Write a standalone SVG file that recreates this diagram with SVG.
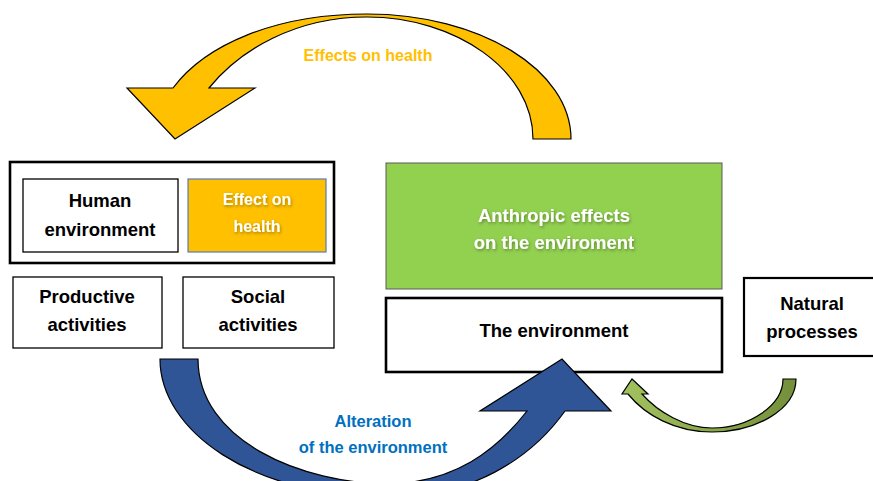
<svg xmlns="http://www.w3.org/2000/svg" width="873" height="481" viewBox="0 0 873 481">
  <style>
    text { font-family: "Liberation Sans", Arial, sans-serif; font-weight: bold; text-anchor: middle; }
    .box { fill: #ffffff; stroke: #000000; stroke-width: 1.3; }
    .heavy { fill: #ffffff; stroke: #000000; stroke-width: 2.6; }
    .dark { fill: #000000; font-size: 18.5px; }
    .light { fill: #ffffff; filter: url(#glow); }
    .arrow { stroke: #000000; stroke-width: 1.2; stroke-linejoin: miter; }
  </style>
  <defs>
    <filter id="glow" x="-20%" y="-40%" width="140%" height="180%">
      <feDropShadow dx="1" dy="1.5" stdDeviation="1.5" flood-color="#000000" flood-opacity="0.35"/>
    </filter>
    <linearGradient id="greenArrow" x1="0" y1="0" x2="1" y2="0">
      <stop offset="0" stop-color="#A2C25E"/>
      <stop offset="1" stop-color="#748F3A"/>
    </linearGradient>
  </defs>

  <rect width="873" height="481" fill="#ffffff"/>

  <!-- human side -->
  <g id="human-group">
    <rect class="heavy" x="10" y="162" width="324" height="101"/>
  </g>
  <g id="human-environment">
    <rect class="box" x="23" y="179" width="155" height="73"/>
    <text class="dark" x="100" y="207">Human</text>
    <text class="dark" x="100" y="236">environment</text>
  </g>
  <g id="effect-on-health">
    <rect x="188" y="179" width="138" height="73" fill="#FFC000" stroke="#5B7BB5" stroke-width="1.2"/>
    <text class="light" x="257" y="205" font-size="16">Effect on</text>
    <text class="light" x="257" y="232" font-size="16">health</text>
  </g>
  <g id="productive-activities">
    <rect class="box" x="13" y="277" width="149" height="71"/>
    <text class="dark" x="87" y="303">Productive</text>
    <text class="dark" x="87" y="331">activities</text>
  </g>
  <g id="social-activities">
    <rect class="box" x="183" y="277" width="151" height="71"/>
    <text class="dark" x="258" y="303">Social</text>
    <text class="dark" x="258" y="331">activities</text>
  </g>

  <!-- environment side -->
  <g id="anthropic-effects">
    <rect x="386" y="163" width="336" height="126" fill="#92D050" stroke="#5a5a5a" stroke-width="1"/>
    <text class="light" x="554" y="222" font-size="18.5">Anthropic effects</text>
    <text class="light" x="554" y="249" font-size="18.5">on the enviroment</text>
  </g>
  <g id="the-environment">
    <rect class="heavy" x="386" y="298" width="336" height="74"/>
    <text class="dark" x="554" y="337">The environment</text>
  </g>
  <g id="natural-processes">
    <rect x="744" y="278" width="132" height="78" fill="#ffffff" stroke="#000000" stroke-width="2.2"/>
    <text class="dark" x="812" y="310">Natural</text>
    <text class="dark" x="812" y="338">processes</text>
  </g>

  <!-- curved arrows -->
  <g id="connectors">
    <path id="effects-on-health-arrow" class="arrow" fill="#FFC000"
          d="M571,139 C571,70 480,14 367,14 C275,14 205,45 173,88 L127,88 L175,139 L255,88 L209,88 C240,50 295,17 367,17 C455,17 533,70 533,139 Z"/>
    <path id="alteration-arrow" class="arrow" fill="#2F5597"
          d="M160,359 C160,430 250,497 390,497 C470,497 530,460 565,411 L611,411 L562,359 L480,411 L527,411 C495,452 455,481 392,484 C300,484 198,440 198,359 Z"/>
    <path id="natural-arrow" class="arrow" fill="url(#greenArrow)"
          d="M796,379 C796,410 755,432 712,432 C675,432 645,415 628,394 L622,394 L632,379 L648,394 L642,394 C658,412 685,428 712,428 C750,428 783,405 783,379 Z"/>
    <text x="368" y="61" font-size="16" fill="#FFC000">Effects on health</text>
    <text x="373" y="427" font-size="16.5" fill="#0070C0">Alteration</text>
    <text x="373" y="453" font-size="16.5" fill="#0070C0">of the environment</text>
  </g>
</svg>
